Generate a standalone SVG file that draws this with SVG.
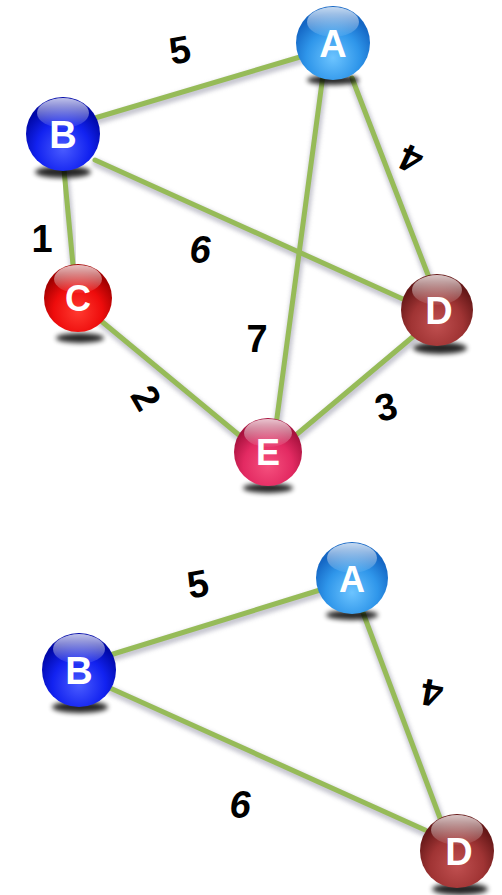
<svg xmlns="http://www.w3.org/2000/svg" width="502" height="895" viewBox="0 0 502 895">
<defs>
<filter id="blur2" x="-20%" y="-50%" width="140%" height="200%"><feGaussianBlur stdDeviation="2"/></filter>
<filter id="blur3" x="-30%" y="-100%" width="160%" height="300%"><feGaussianBlur stdDeviation="2.5"/></filter>
<radialGradient id="gA" cx="50%" cy="70%" r="60%"><stop offset="0" stop-color="#6cc4ff"/><stop offset="0.6" stop-color="#2f96ea"/><stop offset="1" stop-color="#1466c4"/></radialGradient>
<radialGradient id="gB" cx="50%" cy="70%" r="60%"><stop offset="0" stop-color="#4a5cff"/><stop offset="0.6" stop-color="#1222f0"/><stop offset="1" stop-color="#0008a8"/></radialGradient>
<radialGradient id="gC" cx="50%" cy="70%" r="60%"><stop offset="0" stop-color="#ff3a30"/><stop offset="0.6" stop-color="#ee0c0c"/><stop offset="1" stop-color="#a20000"/></radialGradient>
<radialGradient id="gD" cx="50%" cy="70%" r="60%"><stop offset="0" stop-color="#c05050"/><stop offset="0.6" stop-color="#a03434"/><stop offset="1" stop-color="#661818"/></radialGradient>
<radialGradient id="gE" cx="50%" cy="70%" r="60%"><stop offset="0" stop-color="#f5507e"/><stop offset="0.6" stop-color="#e32a62"/><stop offset="1" stop-color="#a8123e"/></radialGradient>
<linearGradient id="hl" x1="0" y1="0" x2="0" y2="1"><stop offset="0" stop-color="#fff" stop-opacity="0.75"/><stop offset="1" stop-color="#fff" stop-opacity="0.05"/></linearGradient>
</defs>
<style>
.edge{stroke:#96bb58;stroke-width:5;stroke-linecap:round;fill:none}
.eshadow{stroke:#b8b8c4;stroke-width:8;stroke-linecap:round;fill:none;filter:url(#blur2);opacity:0.8}
.shadow{fill:#000;filter:url(#blur3);opacity:0.85}
.hl{fill:url(#hl)}
.lbl{font-family:"Liberation Sans",Arial,sans-serif;font-weight:bold;fill:#fff;text-anchor:middle}
.num{font-family:"Liberation Sans",Arial,sans-serif;font-weight:bold;fill:#000;text-anchor:middle;font-size:38px}
.it{font-style:italic}
</style>
<g id="connectors">
<g transform="translate(1,3)">
<line class="eshadow" x1="95" y1="118" x2="300" y2="57"/>
<line class="eshadow" x1="95" y1="160" x2="405" y2="300"/>
<line class="eshadow" x1="352" y1="78" x2="430" y2="280"/>
<line class="eshadow" x1="325" y1="60" x2="274" y2="440"/>
<line class="eshadow" x1="100" y1="320" x2="245" y2="440"/>
<line class="eshadow" x1="290" y1="440" x2="415" y2="335"/>
<line class="eshadow" x1="64" y1="170" x2="73" y2="265"/>
<line class="eshadow" x1="110" y1="655" x2="320" y2="590"/>
<line class="eshadow" x1="110" y1="688" x2="425" y2="830"/>
<line class="eshadow" x1="362" y1="610" x2="440" y2="818"/>
</g>
<line class="edge" x1="95" y1="118" x2="300" y2="57"/>
<line class="edge" x1="95" y1="160" x2="405" y2="300"/>
<line class="edge" x1="352" y1="78" x2="430" y2="280"/>
<line class="edge" x1="325" y1="60" x2="274" y2="440"/>
<line class="edge" x1="100" y1="320" x2="245" y2="440"/>
<line class="edge" x1="290" y1="440" x2="415" y2="335"/>
<line class="edge" x1="64" y1="170" x2="73" y2="265"/>
<line class="edge" x1="110" y1="655" x2="320" y2="590"/>
<line class="edge" x1="110" y1="688" x2="425" y2="830"/>
<line class="edge" x1="362" y1="610" x2="440" y2="818"/>
</g>
<g id="labels">
<text class="num" transform="translate(180,50) rotate(-10)" y="13">5</text>
<text class="num" x="42" y="252">1</text>
<text class="num it" x="200" y="263">6</text>
<text class="num" x="257" y="352">7</text>
<text class="num" transform="translate(146,398) rotate(60)" y="13">2</text>
<text class="num" transform="translate(386,407) rotate(-15)" y="13">3</text>
<text class="num" transform="translate(411,159) rotate(205)" y="13">4</text>
<text class="num" transform="translate(198,584) rotate(-10)" y="13">5</text>
<text class="num" transform="translate(432,693) rotate(190)" y="13">4</text>
<text class="num it" x="240" y="818">6</text>
</g>
<g id="node-A">
<ellipse class="shadow" cx="333" cy="80" rx="26" ry="5"/>
<circle cx="333" cy="43" r="37" fill="url(#gA)"/>
<ellipse class="hl" cx="333" cy="22" rx="26" ry="15"/>
<text class="lbl" x="333" y="57" font-size="38">A</text>
</g>
<g id="node-B">
<ellipse class="shadow" cx="63" cy="172" rx="28" ry="6"/>
<circle cx="63" cy="134" r="37" fill="url(#gB)"/>
<ellipse class="hl" cx="63" cy="113" rx="26" ry="15"/>
<text class="lbl" x="63" y="148" font-size="38">B</text>
</g>
<g id="node-C">
<ellipse class="shadow" cx="80" cy="338" rx="24" ry="5"/>
<circle cx="78" cy="298" r="34" fill="url(#gC)"/>
<ellipse class="hl" cx="78" cy="279" rx="24" ry="14"/>
<text class="lbl" x="78" y="311" font-size="36">C</text>
</g>
<g id="node-D">
<ellipse class="shadow" cx="440" cy="348" rx="27" ry="6"/>
<circle cx="437" cy="310" r="36" fill="url(#gD)"/>
<ellipse class="hl" cx="437" cy="290" rx="25" ry="15"/>
<text class="lbl" x="439" y="324" font-size="38">D</text>
</g>
<g id="node-E">
<ellipse class="shadow" cx="268" cy="488" rx="25" ry="5"/>
<circle cx="268" cy="452" r="34" fill="url(#gE)"/>
<ellipse class="hl" cx="268" cy="433" rx="24" ry="14"/>
<text class="lbl" x="268" y="465" font-size="36">E</text>
</g>
<g id="node-A2">
<ellipse class="shadow" cx="352" cy="615" rx="26" ry="5"/>
<circle cx="352" cy="578" r="36" fill="url(#gA)"/>
<ellipse class="hl" cx="352" cy="558" rx="25" ry="15"/>
<text class="lbl" x="352" y="592" font-size="36">A</text>
</g>
<g id="node-B2">
<ellipse class="shadow" cx="80" cy="707" rx="28" ry="6"/>
<circle cx="79" cy="670" r="37" fill="url(#gB)"/>
<ellipse class="hl" cx="79" cy="649" rx="26" ry="15"/>
<text class="lbl" x="79" y="684" font-size="38">B</text>
</g>
<g id="node-D2">
<ellipse class="shadow" cx="460" cy="889" rx="28" ry="6"/>
<circle cx="457" cy="851" r="37" fill="url(#gD)"/>
<ellipse class="hl" cx="457" cy="830" rx="26" ry="15"/>
<text class="lbl" x="459" y="865" font-size="38">D</text>
</g>
</svg>
